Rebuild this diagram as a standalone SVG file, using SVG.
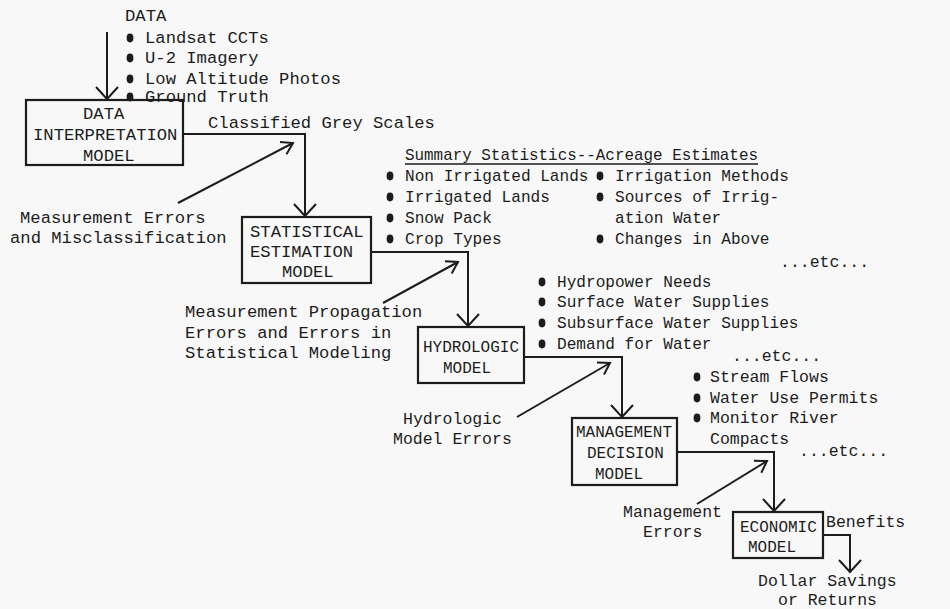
<svg xmlns="http://www.w3.org/2000/svg" width="950" height="609" viewBox="0 0 950 609">
<style>
text{font-family:"Liberation Mono","Courier New",monospace;font-size:17.2px;fill:#1c1c1c}
text.s{font-size:16.5px}
text.t{font-size:16.1px}
text.b{font-size:16px}
.box{fill:none;stroke:#1c1c1c;stroke-width:2.2}
.ln{fill:none;stroke:#1c1c1c;stroke-width:2}
.bul{fill:#1c1c1c}
</style>
<defs>
<marker id="big" markerUnits="userSpaceOnUse" markerWidth="30" markerHeight="30" viewBox="-15 -15 30 30" refX="0" refY="0" orient="auto">
<path d="M-12,-11 L0,0 L-12,11" fill="none" stroke="#1c1c1c" stroke-width="2"/>
</marker>
<marker id="small" markerUnits="userSpaceOnUse" markerWidth="30" markerHeight="30" viewBox="-15 -15 30 30" refX="0" refY="0" orient="auto">
<path d="M-11,-7 L0,0 L-11,7" fill="none" stroke="#1c1c1c" stroke-width="2"/>
</marker>
</defs>
<rect x="0" y="0" width="950" height="609" fill="#f8f8f8"/>

<g id="connectors">
<line class="ln" x1="107" y1="32" x2="107" y2="99" marker-end="url(#big)"/>
<polyline class="ln" points="183,134 305,134 305,216" marker-end="url(#big)"/>
<polyline class="ln" points="371,252 468,252 468,326" marker-end="url(#big)"/>
<polyline class="ln" points="524,357 622,357 622,417" marker-end="url(#big)"/>
<polyline class="ln" points="677,452 774,452 774,511" marker-end="url(#big)"/>
<polyline class="ln" points="823,535 850,535 850,572" marker-end="url(#big)"/>
<line class="ln" x1="178" y1="203" x2="293" y2="143" marker-end="url(#small)"/>
<line class="ln" x1="383" y1="303" x2="458" y2="262" marker-end="url(#small)"/>
<line class="ln" x1="517" y1="417" x2="610" y2="363" marker-end="url(#small)"/>
<line class="ln" x1="697" y1="504" x2="767" y2="461" marker-end="url(#small)"/>
</g>

<g id="data-input">
<text x="125" y="21">DATA</text>
<ellipse class="bul" cx="130" cy="38" rx="3.4" ry="4.4"/>
<ellipse class="bul" cx="130" cy="58" rx="3.4" ry="4.4"/>
<ellipse class="bul" cx="130" cy="79" rx="3.4" ry="4.4"/>
<ellipse class="bul" cx="130" cy="97" rx="3.4" ry="4.4"/>
<text x="145" y="43">Landsat CCTs</text>
<text x="145" y="63">U-2 Imagery</text>
<text x="145" y="84">Low Altitude Photos</text>
<text x="145" y="102">Ground Truth</text>
</g>

<g id="data-interpretation-model">
<rect class="box" x="26" y="100" width="157" height="65"/>
<text x="83" y="119">DATA</text>
<text x="33" y="140">INTERPRETATION</text>
<text x="83" y="161">MODEL</text>
</g>

<g id="classified-label">
<text x="208" y="128">Classified Grey Scales</text>
</g>

<g id="measurement-errors">
<text x="20" y="223">Measurement Errors</text>
<text x="10" y="243">and Misclassification</text>
</g>

<g id="statistical-estimation-model">
<rect class="box" x="242" y="217" width="129" height="66"/>
<text x="250" y="237">STATISTICAL</text>
<text x="250" y="257">ESTIMATION</text>
<text x="282" y="277">MODEL</text>
</g>

<g id="summary-statistics">
<text class="t" x="405" y="160" textLength="353" lengthAdjust="spacingAndGlyphs">Summary Statistics--Acreage Estimates</text>
<line x1="405" y1="164" x2="758" y2="164" stroke="#1c1c1c" stroke-width="1.5"/>
<ellipse class="bul" cx="390" cy="176" rx="3.4" ry="4.4"/>
<ellipse class="bul" cx="390" cy="197" rx="3.4" ry="4.4"/>
<ellipse class="bul" cx="390" cy="218" rx="3.4" ry="4.4"/>
<ellipse class="bul" cx="390" cy="239" rx="3.4" ry="4.4"/>
<text class="t" x="405" y="181">Non Irrigated Lands</text>
<text class="t" x="405" y="202">Irrigated Lands</text>
<text class="t" x="405" y="223">Snow Pack</text>
<text class="t" x="405" y="244">Crop Types</text>
<ellipse class="bul" cx="600" cy="176" rx="3.4" ry="4.4"/>
<ellipse class="bul" cx="600" cy="197" rx="3.4" ry="4.4"/>
<ellipse class="bul" cx="600" cy="239" rx="3.4" ry="4.4"/>
<text class="t" x="615" y="181">Irrigation Methods</text>
<text class="t" x="615" y="202">Sources of Irrig-</text>
<text class="t" x="615" y="223">ation Water</text>
<text class="t" x="615" y="244">Changes in Above</text>
<text class="s" x="780" y="267">...etc...</text>
</g>

<g id="propagation-errors">
<text x="185" y="317">Measurement Propagation</text>
<text x="185" y="338">Errors and Errors in</text>
<text x="185" y="358">Statistical Modeling</text>
</g>

<g id="hydrologic-list">
<ellipse class="bul" cx="542" cy="282" rx="3.4" ry="4.4"/>
<ellipse class="bul" cx="542" cy="302" rx="3.4" ry="4.4"/>
<ellipse class="bul" cx="542" cy="323" rx="3.4" ry="4.4"/>
<ellipse class="bul" cx="542" cy="344" rx="3.4" ry="4.4"/>
<text class="t" x="557" y="287">Hydropower Needs</text>
<text class="t" x="557" y="307">Surface Water Supplies</text>
<text class="t" x="557" y="328">Subsurface Water Supplies</text>
<text class="t" x="557" y="349">Demand for Water</text>
<text class="s" x="732" y="361">...etc...</text>
</g>

<g id="hydrologic-model">
<rect class="box" x="418" y="327" width="106" height="56"/>
<text class="b" x="423" y="352">HYDROLOGIC</text>
<text class="b" x="443" y="373">MODEL</text>
</g>

<g id="hydrologic-errors">
<text class="s" x="403" y="424">Hydrologic</text>
<text class="s" x="393" y="444">Model Errors</text>
</g>

<g id="management-list">
<ellipse class="bul" cx="697" cy="377" rx="3.4" ry="4.4"/>
<ellipse class="bul" cx="697" cy="398" rx="3.4" ry="4.4"/>
<ellipse class="bul" cx="697" cy="418" rx="3.4" ry="4.4"/>
<text class="s" x="710" y="382">Stream Flows</text>
<text class="s" x="710" y="403">Water Use Permits</text>
<text class="s" x="710" y="423">Monitor River</text>
<text class="s" x="710" y="444">Compacts</text>
<text class="s" x="799" y="456">...etc...</text>
</g>

<g id="management-decision-model">
<rect class="box" x="572" y="418" width="105" height="67"/>
<text class="b" x="576" y="437">MANAGEMENT</text>
<text class="b" x="587" y="458">DECISION</text>
<text class="b" x="595" y="479">MODEL</text>
</g>

<g id="management-errors">
<text class="s" x="623" y="517">Management</text>
<text class="s" x="643" y="537">Errors</text>
</g>

<g id="economic-model">
<rect class="box" x="733" y="512" width="90" height="46"/>
<text class="b" x="740" y="532">ECONOMIC</text>
<text class="b" x="748" y="552">MODEL</text>
</g>

<g id="benefits">
<text class="s" x="826" y="527">Benefits</text>
<text class="s" x="758" y="586">Dollar Savings</text>
<text class="s" x="778" y="605">or Returns</text>
</g>
</svg>
